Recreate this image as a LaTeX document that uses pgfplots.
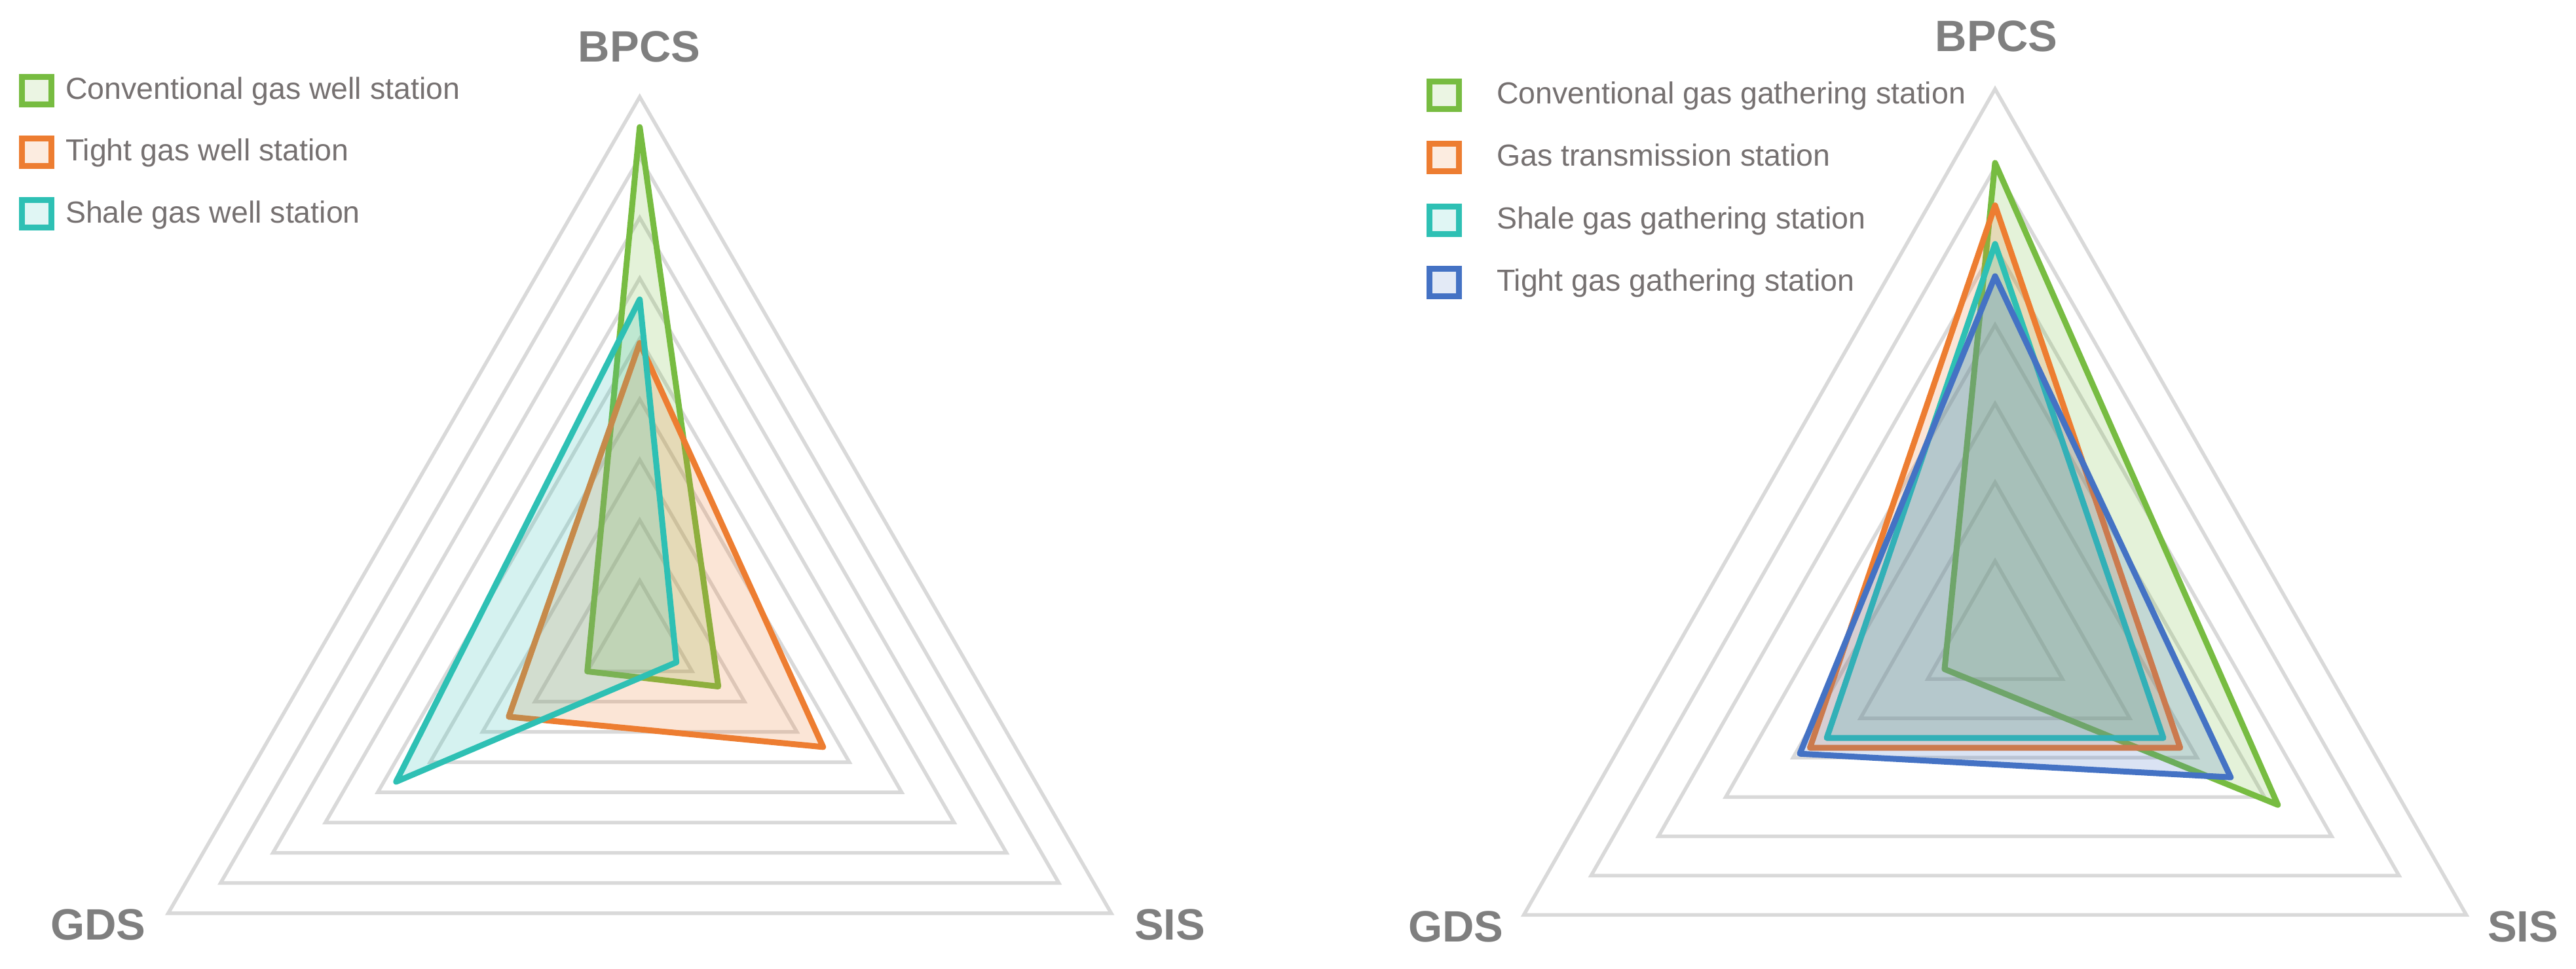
\documentclass[border=0pt]{standalone}
\usepackage{fontspec}
\setmainfont{Liberation Sans}
\usepackage{pgfplots}
\pgfplotsset{compat=1.18}
\definecolor{cgreen}{HTML}{77BC41}
\definecolor{corange}{HTML}{ED7D31}
\definecolor{cteal}{HTML}{2EC0B4}
\definecolor{cblue}{HTML}{4472C4}
\definecolor{gridgray}{HTML}{D9D9D9}
\definecolor{labgray}{HTML}{7F7F7F}
\definecolor{leggray}{HTML}{767171}
\pgfplotsset{
  radar/.style={hide axis, clip=false, data cs=polar, anchor=origin,
    legend cell align=left,
    legend style={draw=none, fill=none, anchor=north west, inner sep=0pt,
      font=\fontsize{9.3}{11}\selectfont, text=leggray,
      nodes={inner sep=0pt}},
  },
  ring/.style={gridgray, line width=1.1pt, forget plot, line join=miter},
  ser/.style={#1, line width=1.8pt, line join=round, fill=#1, fill opacity=0.2, draw opacity=1},
}
\begin{document}
\begin{tikzpicture}
\useasboundingbox (0,0) rectangle (786.6pt,296pt);
% ---------------- left chart ----------------
\begin{axis}[radar, at={(195.34pt,100.14pt)}, x=18.474pt, y=18.474pt,
  xmin=-11, xmax=11, ymin=-11, ymax=11,
  legend style={at={(0.0332,0.9268)}, column sep=3.4pt, row sep=8.65pt},
  legend image code/.code={\draw[#1, line width=1.8pt, line join=miter, fill opacity=0.15] (0pt,-4.2pt) rectangle (9pt,4.2pt);}]
\addplot[ring] coordinates {(90,1)(210,1)(330,1)} -- cycle;
\addplot[ring] coordinates {(90,2)(210,2)(330,2)} -- cycle;
\addplot[ring] coordinates {(90,3)(210,3)(330,3)} -- cycle;
\addplot[ring] coordinates {(90,4)(210,4)(330,4)} -- cycle;
\addplot[ring] coordinates {(90,5)(210,5)(330,5)} -- cycle;
\addplot[ring] coordinates {(90,6)(210,6)(330,6)} -- cycle;
\addplot[ring] coordinates {(90,7)(210,7)(330,7)} -- cycle;
\addplot[ring] coordinates {(90,8)(210,8)(330,8)} -- cycle;
\addplot[ring] coordinates {(90,9)(210,9)(330,9)} -- cycle;
% BPCS (90), GDS (210), SIS (330)
\addplot[ser=cgreen] coordinates {(90,8.5)(210,1.0)(330,1.5)} -- cycle;
\addlegendentry{Conventional gas well station}
\addplot[ser=corange] coordinates {(90,4.93)(210,2.5)(330,3.5)} -- cycle;
\addlegendentry{Tight gas well station}
\addplot[ser=cteal] coordinates {(90,5.65)(210,4.65)(330,0.7)} -- cycle;
\addlegendentry{Shale gas well station}
\end{axis}
% ---------------- right chart ----------------
\begin{axis}[radar, at={(609.2pt,100.6pt)}, x=23.74pt, y=24.03pt,
  xmin=-9, xmax=9, ymin=-9, ymax=9,
  legend style={at={(0.0933,0.8968)}, column sep=10.6pt, row sep=8.9pt},
  legend image code/.code={\draw[#1, line width=1.8pt, line join=miter, fill opacity=0.15] (0pt,-4.2pt) rectangle (9pt,4.2pt);}]
\addplot[ring] coordinates {(90,1)(210,1)(330,1)} -- cycle;
\addplot[ring] coordinates {(90,2)(210,2)(330,2)} -- cycle;
\addplot[ring] coordinates {(90,3)(210,3)(330,3)} -- cycle;
\addplot[ring] coordinates {(90,4)(210,4)(330,4)} -- cycle;
\addplot[ring] coordinates {(90,5)(210,5)(330,5)} -- cycle;
\addplot[ring] coordinates {(90,6)(210,6)(330,6)} -- cycle;
\addplot[ring] coordinates {(90,7)(210,7)(330,7)} -- cycle;
\addplot[ser=cgreen] coordinates {(90,6.06)(210,0.75)(330,4.2)} -- cycle;
\addlegendentry{Conventional gas gathering station}
\addplot[ser=corange] coordinates {(90,5.52)(210,2.75)(330,2.75)} -- cycle;
\addlegendentry{Gas transmission station}
\addplot[ser=cteal] coordinates {(90,5.03)(210,2.5)(330,2.5)} -- cycle;
\addlegendentry{Shale gas gathering station}
\addplot[ser=cblue] coordinates {(90,4.62)(210,2.9)(330,3.5)} -- cycle;
\addlegendentry{Tight gas gathering station}
\end{axis}
% ---------------- axis labels ----------------
\begin{scope}[every node/.style={font=\bfseries\fontsize{13.4}{16}\selectfont, text=labgray}]
\node at (195.2pt,281.8pt) {BPCS};
\node at (30pt,13.6pt) {GDS};
\node at (357.2pt,13.6pt) {SIS};
\node at (609.6pt,285pt) {BPCS};
\node at (444.6pt,13pt) {GDS};
\node at (770.4pt,13pt) {SIS};
\end{scope}
\end{tikzpicture}
\end{document}
